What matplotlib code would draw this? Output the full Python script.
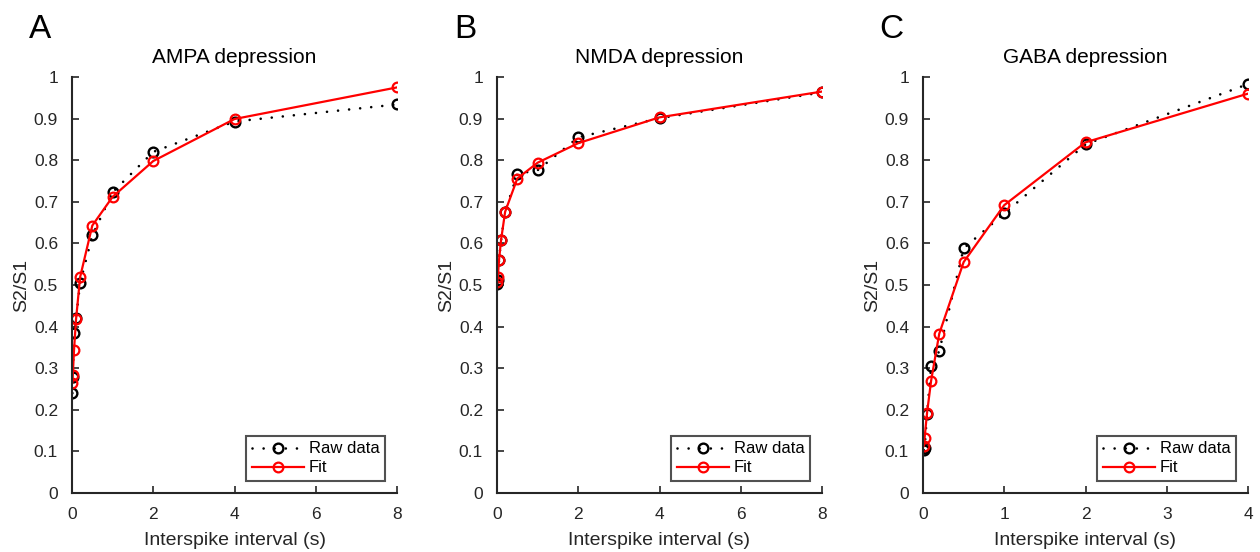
import numpy as np
import matplotlib
matplotlib.use("Agg")
import matplotlib.pyplot as plt

plt.rcParams['font.family'] = ['Liberation Sans', 'DejaVu Sans']

# interspike intervals (s)
isi_long = [0.01, 0.02, 0.05, 0.1, 0.2, 0.5, 1, 2, 4, 8]
isi_gaba = [0.01, 0.02, 0.05, 0.1, 0.2, 0.5, 1, 2, 4]

# AMPA
ampa_raw = [0.24, 0.28, 0.385, 0.42, 0.505, 0.619, 0.723, 0.820, 0.893, 0.934]
ampa_fit = [0.265, 0.284, 0.344, 0.418, 0.519, 0.643, 0.712, 0.798, 0.899, 0.975]
# NMDA
nmda_raw = [0.503, 0.512, 0.56, 0.608, 0.676, 0.767, 0.776, 0.855, 0.901, 0.963]
nmda_fit = [0.508, 0.519, 0.56, 0.608, 0.676, 0.756, 0.794, 0.841, 0.903, 0.965]
# GABA
gaba_raw = [0.103, 0.108, 0.19, 0.305, 0.341, 0.588, 0.672, 0.838, 0.983]
gaba_fit = [0.113, 0.133, 0.193, 0.27, 0.383, 0.555, 0.692, 0.843, 0.960]

panels = [
    ("A", "AMPA depression", isi_long, ampa_raw, ampa_fit, 8, [0, 2, 4, 6, 8]),
    ("B", "NMDA depression", isi_long, nmda_raw, nmda_fit, 8, [0, 2, 4, 6, 8]),
    ("C", "GABA depression", isi_gaba, gaba_raw, gaba_fit, 4, [0, 1, 2, 3, 4]),
]
lefts = [72, 497, 923]

fig = plt.figure(figsize=(12.6, 5.52), dpi=100)
axcol = '#262626'
for (letter, title, x, raw, fit, xmax, xt), left in zip(panels, lefts):
    ax = fig.add_axes([left / 1260, 1 - 493 / 552, 325 / 1260, 416 / 552])
    ax.plot(x, raw, color='black', linestyle=(0, (0.01, 4.2)), linewidth=1.9,
            marker='o', markersize=7, markerfacecolor='none',
            markeredgewidth=1.7, label='Raw data', dash_capstyle='round')
    ax.plot(x, fit, color='red', linewidth=1.6, marker='o', markersize=7,
            markerfacecolor='none', markeredgewidth=1.6, label='Fit')
    ax.set_xlim(0, xmax)
    ax.set_ylim(0, 1)
    ax.set_xticks(xt)
    ax.set_yticks(np.round(np.arange(0, 1.01, 0.1), 1))
    ax.set_yticklabels(['0'] + ['%.1f' % v for v in np.arange(0.1, 0.95, 0.1)] + ['1'])
    for s in ['top', 'right']:
        ax.spines[s].set_visible(False)
    for s in ['left', 'bottom']:
        ax.spines[s].set_color(axcol)
        ax.spines[s].set_linewidth(1.5)
    ax.tick_params(direction='in', length=5, width=1.2, colors=axcol,
                   labelcolor='#262626', labelsize=12.5)
    ax.tick_params(axis='x', pad=10)
    ax.tick_params(axis='y', pad=10)
    ax.set_xlabel('Interspike interval (s)', fontsize=14, color='#262626', labelpad=7)
    ax.set_ylabel('S2/S1', fontsize=14, color='#262626', labelpad=3)
    ax.set_title(title, fontsize=15, pad=10)
    leg = ax.legend(loc='lower right', fontsize=12, frameon=True, fancybox=False,
                    borderpad=0.35, handlelength=3.1, handletextpad=0.3,
                    labelspacing=0.25, borderaxespad=0.7)
    leg.get_frame().set_edgecolor(axcol)
    leg.get_frame().set_linewidth(1.5)
    fig.text((left - 32) / 1260, 1 - 29 / 552, letter, fontsize=24,
             ha='center', va='center')

fig.savefig('out.png', dpi=100)
